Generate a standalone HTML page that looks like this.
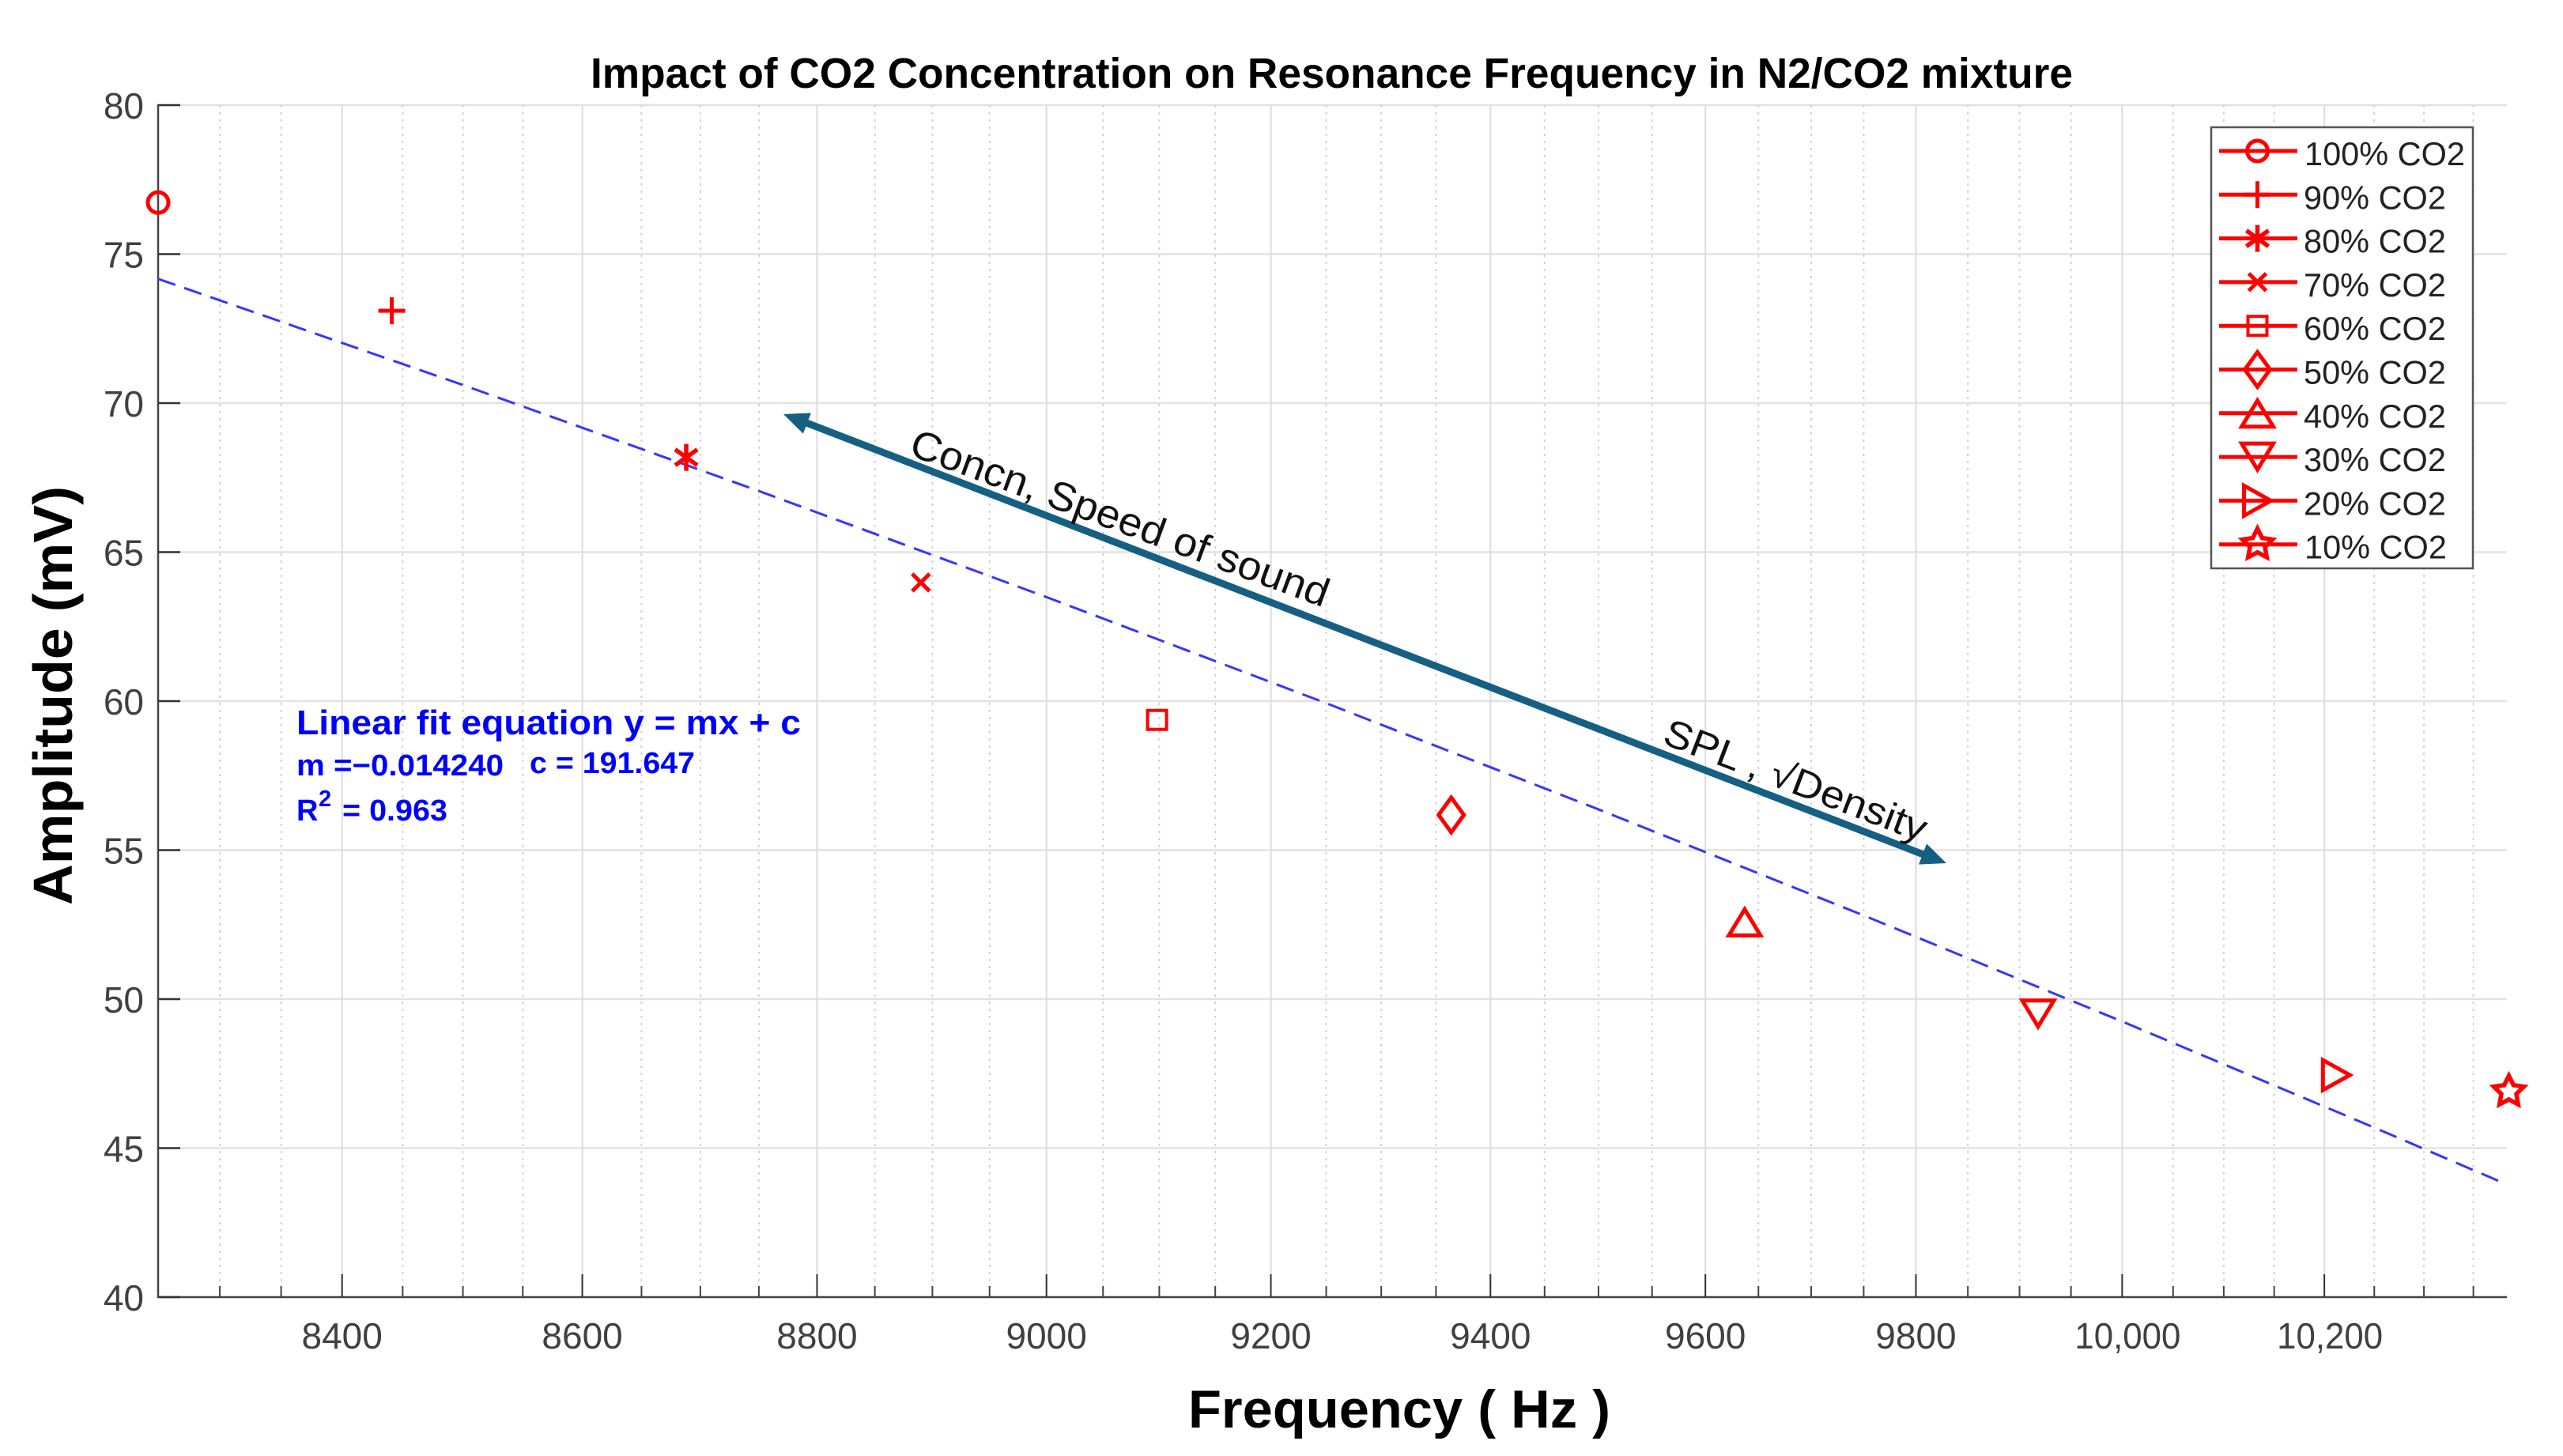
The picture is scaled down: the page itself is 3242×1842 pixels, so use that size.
<!DOCTYPE html>
<html lang="en">
<head>
<meta charset="utf-8">
<title>Impact of CO2 Concentration on Resonance Frequency in N2/CO2 mixture</title>
<style>
  html, body { margin: 0; padding: 0; background: #fff; }
  body { width: 3242px; height: 1842px; overflow: hidden; }
  svg { display: block; }
  text { font-family: "Liberation Sans", sans-serif; }
</style>
</head>
<body>
<svg id="chart" xmlns="http://www.w3.org/2000/svg" width="3242" height="1842" viewBox="0 0 3242 1842">
  <rect x="0" y="0" width="3242" height="1842" fill="#ffffff"/>
  <g id="grid"></g>
  <g id="axes"></g>
  <g id="fit"></g>

  <g>
    <line x1="1015" y1="533" x2="2438" y2="1083" stroke="#156082" stroke-width="9"/>
    <polygon points="991,524 1015.9,548.6 1025.9,522.4" fill="#156082"/>
    <polygon points="2462,1092 2427.1,1093.6 2437.1,1067.4" fill="#156082"/>
  </g>
  <text transform="translate(1148,575) rotate(20.2)" font-size="51" fill="#111" textLength="560" lengthAdjust="spacingAndGlyphs">Concn, Speed of sound</text>
  <text transform="translate(2101,940) rotate(20.9)" font-size="49" fill="#111" textLength="352" lengthAdjust="spacingAndGlyphs">SPL , √Density</text>

  <g id="marks"></g>

  <g fill="#0000ff" font-weight="bold">
    <text x="375" y="929" font-size="44" textLength="638" lengthAdjust="spacingAndGlyphs">Linear fit equation y = mx + c</text>
    <text x="375" y="981" font-size="38" textLength="262" lengthAdjust="spacingAndGlyphs">m =−0.014240</text>
    <text x="670" y="978" font-size="38" textLength="209" lengthAdjust="spacingAndGlyphs">c = 191.647</text>
    <text x="375" y="1038" font-size="38">R</text>
    <text x="403" y="1020" font-size="29">2</text>
    <text x="433" y="1038" font-size="38" textLength="133" lengthAdjust="spacingAndGlyphs">= 0.963</text>
  </g>

  <text x="747" y="111" font-size="54" font-weight="bold" fill="#000" textLength="1875" lengthAdjust="spacingAndGlyphs">Impact of CO2 Concentration on Resonance Frequency in N2/CO2 mixture</text>
  <text x="1503" y="1806" font-size="68" font-weight="bold" fill="#000" textLength="534" lengthAdjust="spacingAndGlyphs">Frequency ( Hz )</text>
  <text transform="translate(91,1145) rotate(-90)" font-size="70" font-weight="bold" fill="#000" textLength="530" lengthAdjust="spacingAndGlyphs">Amplitude (mV)</text>

  <g id="legend"></g>
</svg>

<script>
// ---- Data ----
const seriesNames = ['100% CO2', '90% CO2', '80% CO2', '70% CO2', '60% CO2', '50% CO2', '40% CO2', '30% CO2', '20% CO2', '10% CO2'];
const seriesMarkers = ['circle', 'plus', 'asterisk', 'cross', 'square', 'diamond', 'triangleUp', 'triangleDown', 'triangleRight', 'star'];
const frequencies = [8250, 8441, 8688, 8890, 9098, 9364, 9637, 9918, 10212, 10386];
const amplitudes = [76.73, 73.1, 68.18, 63.98, 59.37, 56.18, 52.59, 49.5, 47.45, 46.9];

const fitFrequencies = [8250, 8500, 8750, 9000, 9250, 9500, 9750, 10000, 10250, 10384];
const fitAmplitudes = [74.17, 70.61, 67.05, 63.49, 59.93, 56.37, 52.81, 49.25, 45.69, 43.78];

const xMajorTicks = [8400, 8600, 8800, 9000, 9200, 9400, 9600, 9800, 10000, 10200];
const xTickLabels = ['8400', '8600', '8800', '9000', '9200', '9400', '9600', '9800', '10,000', '10,200'];
const xMinorTicks = [8300, 8350, 8450, 8500, 8550, 8650, 8700, 8750, 8850, 8900, 8950, 9050, 9100, 9150, 9250, 9300, 9350, 9450, 9500, 9550, 9650, 9700, 9750, 9850, 9900, 9950, 10050, 10100, 10150, 10250, 10300, 10350];
const yTicks = [40, 45, 50, 55, 60, 65, 70, 75, 80];
const yTickLabels = ['40', '45', '50', '55', '60', '65', '70', '75', '80'];

// ---- Axis functions (log x, linear y) ----
const xDomain = [8250, 10384];
const yDomain = [40, 80];
const plotLeft = 200, plotRight = 3171, plotTop = 133, plotBottom = 1641;
function xScale(f) {
  return plotLeft + (Math.log(f) - Math.log(xDomain[0])) / (Math.log(xDomain[1]) - Math.log(xDomain[0])) * (plotRight - plotLeft);
}
function yScale(a) {
  return plotBottom - (a - yDomain[0]) / (yDomain[1] - yDomain[0]) * (plotBottom - plotTop);
}

const NS = 'http://www.w3.org/2000/svg';
function make(tag, attrs, parent) {
  const el = document.createElementNS(NS, tag);
  for (const k in attrs) el.setAttribute(k, attrs[k]);
  parent.appendChild(el);
  return el;
}

function markerGeometry(type, cx, cy) {
  const p = (pts) => pts.map((q, i) => (i ? 'L' : 'M') + (cx + q[0]).toFixed(1) + ' ' + (cy + q[1]).toFixed(1)).join(' ') + ' Z';
  switch (type) {
    case 'circle':
      return 'M' + (cx - 13) + ' ' + cy + ' a13 13 0 1 0 26 0 a13 13 0 1 0 -26 0 Z';
    case 'plus':
      return 'M' + (cx - 17) + ' ' + cy + ' H' + (cx + 17) + ' M' + cx + ' ' + (cy - 17) + ' V' + (cy + 17);
    case 'asterisk':
      return 'M' + cx + ' ' + (cy - 17) + ' V' + (cy + 17) +
        ' M' + (cx - 14) + ' ' + (cy - 10) + ' L' + (cx + 14) + ' ' + (cy + 10) +
        ' M' + (cx - 14) + ' ' + (cy + 10) + ' L' + (cx + 14) + ' ' + (cy - 10);
    case 'cross':
      return 'M' + (cx - 11) + ' ' + (cy - 11) + ' L' + (cx + 11) + ' ' + (cy + 11) +
        ' M' + (cx - 11) + ' ' + (cy + 11) + ' L' + (cx + 11) + ' ' + (cy - 11);
    case 'square':
      return p([[-12, -12], [12, -12], [12, 12], [-12, 12]]);
    case 'diamond':
      return p([[0, -22], [16, 0], [0, 22], [-16, 0]]);
    case 'triangleUp':
      return p([[0, -16], [20, 17], [-20, 17]]);
    case 'triangleDown':
      return p([[0, 16], [20, -17], [-20, -17]]);
    case 'triangleRight':
      return p([[17, 0], [-17, -19], [-17, 19]]);
    case 'star': {
      const pts = [];
      for (let i = 0; i < 10; i++) {
        const r = i % 2 ? 10 : 20;
        const t = -Math.PI / 2 + i * Math.PI / 5;
        pts.push([r * Math.cos(t), r * Math.sin(t)]);
      }
      return p(pts);
    }
  }
  return '';
}

// ---- Grid ----
const grid = document.getElementById('grid');
yTicks.forEach(function (v) {
  const line = make('line', { x1: plotLeft, x2: plotRight, y1: yScale(v), y2: yScale(v), stroke: '#e2e2e2', 'stroke-width': 2.5 }, grid);
  
  
});
xMinorTicks.forEach(function (v) {
  const line = make('line', { x1: xScale(v), x2: xScale(v), y1: plotTop, y2: plotBottom, stroke: '#d2d2d2', 'stroke-width': 2, 'stroke-dasharray': '3 6' }, grid);
  
  
});
xMajorTicks.forEach(function (v) {
  const line = make('line', { x1: xScale(v), x2: xScale(v), y1: plotTop, y2: plotBottom, stroke: '#dcdcdc', 'stroke-width': 2 }, grid);
  
  
});

// ---- Axes ----
const axes = document.getElementById('axes');
const yAxisLine = make('line', { x1: plotLeft, x2: plotLeft, y1: plotTop - 1, y2: plotBottom + 1, stroke: '#444', 'stroke-width': 2.5 }, axes);


const xAxisLine = make('line', { x1: plotLeft, x2: plotRight, y1: plotBottom, y2: plotBottom, stroke: '#444', 'stroke-width': 2.5 }, axes);



yTicks.forEach(function (v, i) {
  const tick = make('line', { x1: plotLeft, x2: plotLeft + 28, y1: yScale(v), y2: yScale(v), stroke: '#333', 'stroke-width': 2.5 }, axes);
  
  
  const label = make('text', { x: 182, y: yScale(v) + 17, 'text-anchor': 'end', 'font-size': 46, fill: '#404040' }, axes);
  label.textContent = yTickLabels[i];
  
  
});
xMinorTicks.forEach(function (v) {
  const tick = make('line', { x1: xScale(v), x2: xScale(v), y1: plotBottom - 14, y2: plotBottom, stroke: '#444', 'stroke-width': 2 }, axes);
  
  
});
xMajorTicks.forEach(function (v, i) {
  const tick = make('line', { x1: xScale(v), x2: xScale(v), y1: plotBottom - 29, y2: plotBottom, stroke: '#333', 'stroke-width': 2 }, axes);
  
  
  const hasComma = xTickLabels[i].indexOf(',') >= 0;
  const label = make('text', { x: xScale(v) + (hasComma ? 7 : 0), y: 1706, 'text-anchor': 'middle', 'font-size': 46, fill: '#404040' }, axes);
  if (hasComma) {
    label.setAttribute('textLength', 134);
    label.setAttribute('lengthAdjust', 'spacingAndGlyphs');
  }
  label.textContent = xTickLabels[i];
  
  
});

// ---- Fit line ----
const fitLayer = document.getElementById('fit');
const fitPoints = fitFrequencies.map(function (f, i) { return xScale(f).toFixed(1) + ',' + yScale(fitAmplitudes[i]).toFixed(1); }).join(' ');
const fitLine = make('polyline', { points: fitPoints, fill: 'none', stroke: '#3535ff', 'stroke-width': 3, 'stroke-dasharray': '23 12' }, fitLayer);



// ---- Data markers ----
const marks = document.getElementById('marks');
function markerStyle(type) {
  const width = type === 'star' ? 5.5 : type === 'asterisk' ? 5.5 : type === 'square' ? 4 : 5;
  return { fill: 'none', stroke: '#ff0000', 'stroke-width': width, 'stroke-linejoin': 'miter' };
}
frequencies.forEach(function (f, i) {
  const type = seriesMarkers[i];
  const attrs = markerStyle(type);
  attrs.d = markerGeometry(type, xScale(f), yScale(amplitudes[i]));
  const mark = make('path', attrs, marks);
  
  
  mark.setAttribute('data-series', seriesNames[i]);
});

// ---- Legend ----
const legend = document.getElementById('legend');
const legendBox = make('rect', { x: 2797, y: 161, width: 331, height: 558, fill: '#ffffff', stroke: '#555', 'stroke-width': 2.5 }, legend);


seriesNames.forEach(function (name, i) {
  const rowY = 191 + i * 55.3;
  const entry = make('g', {}, legend);
  
  
  const swatch = make('line', { x1: 2807, x2: 2906, y1: rowY, y2: rowY, stroke: '#ff0000', 'stroke-width': 5 }, entry);
  
  
  const attrs = markerStyle(seriesMarkers[i]);
  attrs.d = markerGeometry(seriesMarkers[i], 2855.5, rowY);
  const glyph = make('path', attrs, entry);
  
  
  const label = make('text', { x: i === 0 || i === 9 ? 2915 : 2914, y: rowY + 18, 'font-size': 41.5, fill: '#222' }, entry);
  label.textContent = name;
  
  
});
</script>
</body>
</html>
